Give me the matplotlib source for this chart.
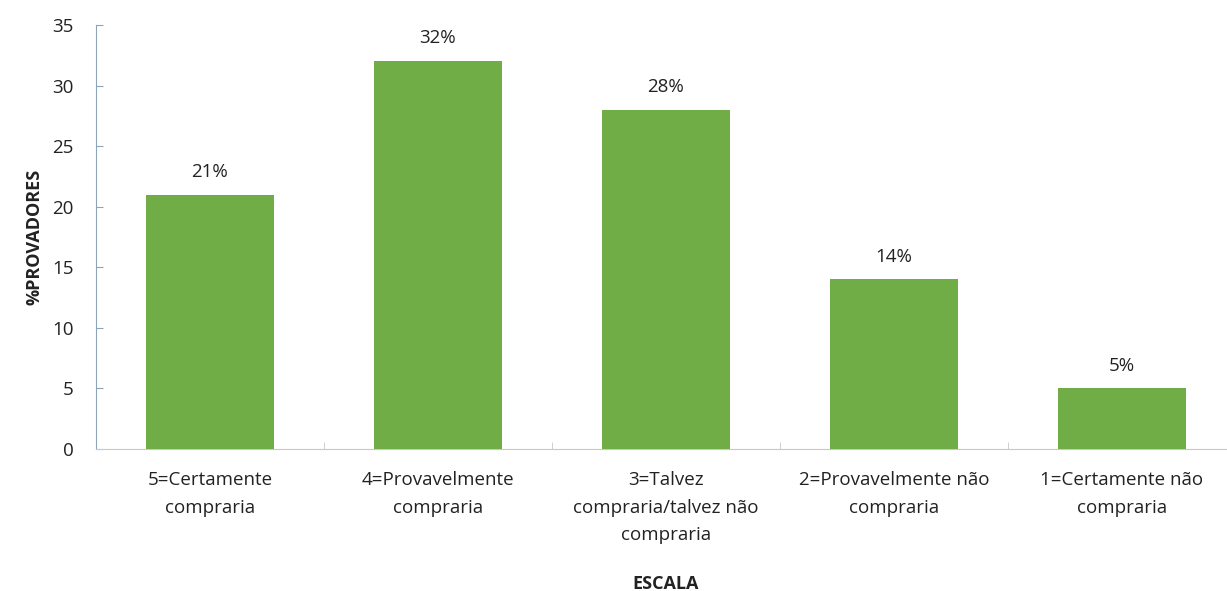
import matplotlib
matplotlib.use("Agg")
import matplotlib.pyplot as plt

categories = ["5=Certamente\ncompraria", "4=Provavelmente\ncompraria",
              "3=Talvez\ncompraria/talvez não\ncompraria",
              "2=Provavelmente não\ncompraria", "1=Certamente não\ncompraria"]
values = [21, 32, 28, 14, 5]
labels = ["21%", "32%", "28%", "14%", "5%"]
yticks = [0, 5, 10, 15, 20, 25, 30, 35]

plt.rcParams['font.family'] = ['Open Sans', 'DejaVu Sans']

fig = plt.figure(figsize=(12.27, 5.91), dpi=100)
ax = fig.add_axes([96/1227, 1-449/591, 1140/1227, (449-25)/591])
x = list(range(len(values)))
bars = ax.bar(x, values, width=0.565, color='#70AD47', zorder=3)
for xi, v, lab in zip(x, values, labels):
    ax.annotate(lab, (xi, v), xytext=(0, 10), textcoords='offset points',
                ha='center', va='bottom', fontsize=13.5, color='#222222')

ax.set_xlim(-0.5, len(values) - 0.5)
ax.set_ylim(0, 35)
ax.set_yticks(yticks)
ax.set_xticks(x)
ax.set_xticklabels(categories, fontsize=13.5, color='#222222', linespacing=1.68)
ax.tick_params(axis='y', labelsize=13.5, labelcolor='#222222', direction='in',
               length=5, color='#8EA4B8', pad=16)
ax.tick_params(axis='x', length=0, pad=16)
ax.set_xticks([i + 0.5 for i in range(len(values) - 1)], minor=True)
ax.tick_params(axis='x', which='minor', length=5, direction='in', color='#C8C8C8')

for s in ['top', 'right']:
    ax.spines[s].set_visible(False)
ax.spines['left'].set_color('#8EA4B8')
ax.spines['bottom'].set_color('#C8C8C8')

ax.set_ylabel('%PROVADORES', fontsize=13, fontweight='bold', color='#222222', labelpad=6)
ax.set_xlabel('ESCALA', fontsize=13, fontweight='bold', color='#222222', labelpad=22)

fig.savefig('out.png', dpi=100)
